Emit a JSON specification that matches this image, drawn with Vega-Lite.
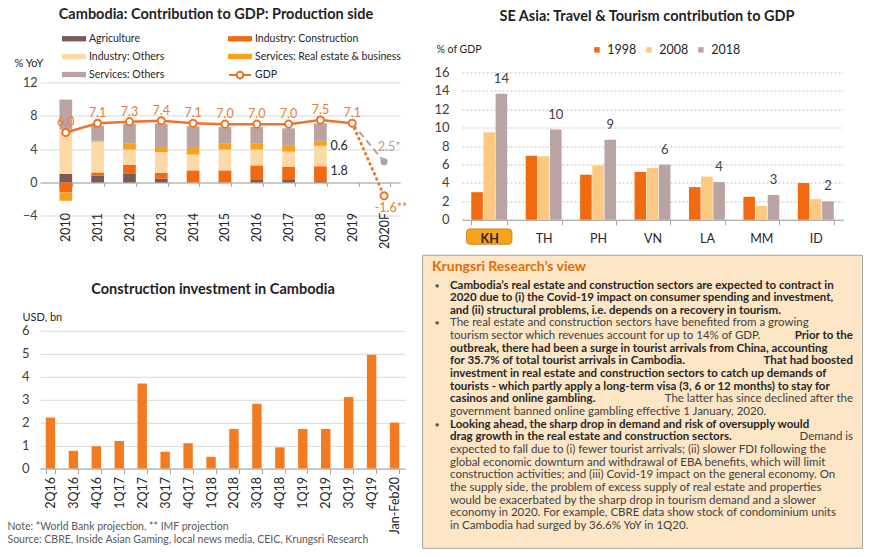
{
  "$schema": "https://vega.github.io/schema/vega-lite/v6.json",
  "background": "white",
  "padding": {"left": 7, "top": 6.5, "right": 5, "bottom": 5},
  "config": {
    "font": "Lato",
    "view": {"stroke": null}
  },
  "datasets": {
    "parts": [
      {"year": "2010", "sector": "Agriculture", "value": 1.05},
      {"year": "2010", "sector": "Industry: Construction", "value": -1.2},
      {"year": "2010", "sector": "Industry: Others", "value": 5.3},
      {"year": "2010", "sector": "Services: Real estate & business", "value": -1.0},
      {"year": "2010", "sector": "Services: Others", "value": 3.6},
      {"year": "2011", "sector": "Agriculture", "value": 0.8},
      {"year": "2011", "sector": "Industry: Construction", "value": 0.4},
      {"year": "2011", "sector": "Industry: Others", "value": 3.7},
      {"year": "2011", "sector": "Services: Real estate & business", "value": 0.1},
      {"year": "2011", "sector": "Services: Others", "value": 1.8},
      {"year": "2012", "sector": "Agriculture", "value": 1.1},
      {"year": "2012", "sector": "Industry: Construction", "value": 1.0},
      {"year": "2012", "sector": "Industry: Others", "value": 1.85},
      {"year": "2012", "sector": "Services: Real estate & business", "value": 0.7},
      {"year": "2012", "sector": "Services: Others", "value": 2.4},
      {"year": "2013", "sector": "Agriculture", "value": 0.45},
      {"year": "2013", "sector": "Industry: Construction", "value": 0.7},
      {"year": "2013", "sector": "Industry: Others", "value": 2.5},
      {"year": "2013", "sector": "Services: Real estate & business", "value": 0.5},
      {"year": "2013", "sector": "Services: Others", "value": 2.9},
      {"year": "2014", "sector": "Agriculture", "value": 0.0},
      {"year": "2014", "sector": "Industry: Construction", "value": 1.45},
      {"year": "2014", "sector": "Industry: Others", "value": 1.9},
      {"year": "2014", "sector": "Services: Real estate & business", "value": 0.8},
      {"year": "2014", "sector": "Services: Others", "value": 2.6},
      {"year": "2015", "sector": "Agriculture", "value": 0.0},
      {"year": "2015", "sector": "Industry: Construction", "value": 1.45},
      {"year": "2015", "sector": "Industry: Others", "value": 2.5},
      {"year": "2015", "sector": "Services: Real estate & business", "value": 0.7},
      {"year": "2015", "sector": "Services: Others", "value": 2.0},
      {"year": "2016", "sector": "Agriculture", "value": 0.3},
      {"year": "2016", "sector": "Industry: Construction", "value": 1.75},
      {"year": "2016", "sector": "Industry: Others", "value": 1.9},
      {"year": "2016", "sector": "Services: Real estate & business", "value": 0.7},
      {"year": "2016", "sector": "Services: Others", "value": 2.0},
      {"year": "2017", "sector": "Agriculture", "value": 0.3},
      {"year": "2017", "sector": "Industry: Construction", "value": 1.6},
      {"year": "2017", "sector": "Industry: Others", "value": 1.8},
      {"year": "2017", "sector": "Services: Real estate & business", "value": 0.7},
      {"year": "2017", "sector": "Services: Others", "value": 2.1},
      {"year": "2018", "sector": "Agriculture", "value": 0.15},
      {"year": "2018", "sector": "Industry: Construction", "value": 1.8},
      {"year": "2018", "sector": "Industry: Others", "value": 2.45},
      {"year": "2018", "sector": "Services: Real estate & business", "value": 0.6},
      {"year": "2018", "sector": "Services: Others", "value": 2.1}
    ],
    "gdp": [
      {"year": "2010", "series": "GDP", "value": 6.0},
      {"year": "2011", "series": "GDP", "value": 7.1},
      {"year": "2012", "series": "GDP", "value": 7.3},
      {"year": "2013", "series": "GDP", "value": 7.4},
      {"year": "2014", "series": "GDP", "value": 7.1},
      {"year": "2015", "series": "GDP", "value": 7.0},
      {"year": "2016", "series": "GDP", "value": 7.0},
      {"year": "2017", "series": "GDP", "value": 7.0},
      {"year": "2018", "series": "GDP", "value": 7.5},
      {"year": "2019", "series": "GDP", "value": 7.1}
    ],
    "proj": [
      {"year": "2019", "source": "World Bank", "value": 7.1, "note": ""},
      {"year": "2020F", "source": "World Bank", "value": 2.5, "note": "2.5*"},
      {"year": "2019", "source": "IMF", "value": 7.1, "note": ""},
      {"year": "2020F", "source": "IMF", "value": -1.6, "note": "-1.6**"}
    ],
    "tourism": [
      {"country": "KH", "year": "1998", "value": 3.0},
      {"country": "KH", "year": "2008", "value": 9.5},
      {"country": "KH", "year": "2018", "value": 13.7},
      {"country": "TH", "year": "1998", "value": 6.95},
      {"country": "TH", "year": "2008", "value": 6.9},
      {"country": "TH", "year": "2018", "value": 9.8},
      {"country": "PH", "year": "1998", "value": 4.9},
      {"country": "PH", "year": "2008", "value": 5.9},
      {"country": "PH", "year": "2018", "value": 8.7},
      {"country": "VN", "year": "1998", "value": 5.2},
      {"country": "VN", "year": "2008", "value": 5.65},
      {"country": "VN", "year": "2018", "value": 6.0},
      {"country": "LA", "year": "1998", "value": 3.55},
      {"country": "LA", "year": "2008", "value": 4.7},
      {"country": "LA", "year": "2018", "value": 4.1},
      {"country": "MM", "year": "1998", "value": 2.5},
      {"country": "MM", "year": "2008", "value": 1.5},
      {"country": "MM", "year": "2018", "value": 2.7},
      {"country": "ID", "year": "1998", "value": 4.0},
      {"country": "ID", "year": "2008", "value": 2.25},
      {"country": "ID", "year": "2018", "value": 2.0}
    ],
    "construction": [
      {"period": "2Q16", "usd_bn": 2.22},
      {"period": "3Q16", "usd_bn": 0.77},
      {"period": "4Q16", "usd_bn": 0.97},
      {"period": "1Q17", "usd_bn": 1.2},
      {"period": "2Q17", "usd_bn": 3.7},
      {"period": "3Q17", "usd_bn": 0.73},
      {"period": "4Q17", "usd_bn": 1.1},
      {"period": "1Q18", "usd_bn": 0.51},
      {"period": "2Q18", "usd_bn": 1.72},
      {"period": "3Q18", "usd_bn": 2.82},
      {"period": "4Q18", "usd_bn": 0.92},
      {"period": "1Q19", "usd_bn": 1.72},
      {"period": "2Q19", "usd_bn": 1.72},
      {"period": "3Q19", "usd_bn": 3.11},
      {"period": "4Q19", "usd_bn": 4.96},
      {"period": "Jan-Feb20", "usd_bn": 2.0}
    ],
    "view": [
      {"line": 1, "part": "lead", "emph": true, "first": true, "text": "Cambodia’s real estate and construction sectors are expected to contract in"},
      {"line": 2, "part": "lead", "emph": true, "first": false, "text": "2020 due to (i) the Covid-19 impact on consumer spending and investment,"},
      {"line": 3, "part": "lead", "emph": true, "first": false, "text": "and (ii) structural problems, i.e. depends on a recovery in tourism."},
      {"line": 4, "part": "lead", "emph": false, "first": true, "text": "The real estate and construction sectors have benefited from a growing"},
      {"line": 5, "part": "lead", "emph": false, "first": false, "text": "tourism sector which revenues account for up to 14% of GDP."},
      {"line": 5, "part": "tail", "emph": true, "first": false, "text": "Prior to the"},
      {"line": 6, "part": "lead", "emph": true, "first": false, "text": "outbreak, there had been a surge in tourist arrivals from China, accounting"},
      {"line": 7, "part": "lead", "emph": true, "first": false, "text": "for 35.7% of total tourist arrivals in Cambodia."},
      {"line": 7, "part": "tail", "emph": true, "first": false, "text": "That had boosted"},
      {"line": 8, "part": "lead", "emph": true, "first": false, "text": "investment in real estate and construction sectors to catch up demands of"},
      {"line": 9, "part": "lead", "emph": true, "first": false, "text": "tourists - which partly apply a long-term visa (3, 6 or 12 months) to stay for"},
      {"line": 10, "part": "lead", "emph": true, "first": false, "text": "casinos and online gambling."},
      {"line": 10, "part": "tail", "emph": false, "first": false, "text": "The latter has since declined after the"},
      {"line": 11, "part": "lead", "emph": false, "first": false, "text": "government banned online gambling effective 1 January, 2020."},
      {"line": 12, "part": "lead", "emph": true, "first": true, "text": "Looking ahead, the sharp drop in demand and risk of oversupply would"},
      {"line": 13, "part": "lead", "emph": true, "first": false, "text": "drag growth in the real estate and construction sectors."},
      {"line": 13, "part": "tail", "emph": false, "first": false, "text": "Demand is"},
      {"line": 14, "part": "lead", "emph": false, "first": false, "text": "expected to fall due to (i) fewer tourist arrivals; (ii) slower FDI following the"},
      {"line": 15, "part": "lead", "emph": false, "first": false, "text": "global economic downturn and withdrawal of EBA benefits, which will limit"},
      {"line": 16, "part": "lead", "emph": false, "first": false, "text": "construction activities; and (iii) Covid-19 impact on the general economy. On"},
      {"line": 17, "part": "lead", "emph": false, "first": false, "text": "the supply side, the problem of excess supply of real estate and properties"},
      {"line": 18, "part": "lead", "emph": false, "first": false, "text": "would be exacerbated by the sharp drop in tourism demand and a slower"},
      {"line": 19, "part": "lead", "emph": false, "first": false, "text": "economy in 2020. For example, CBRE data show stock of condominium units"},
      {"line": 20, "part": "lead", "emph": false, "first": false, "text": "in Cambodia had surged by 36.6% YoY in 1Q20."}
    ]
  },
  "spacing": 182.3,
  "bounds": "flush",
  "vconcat": [
    {
      "spacing": 62,
      "bounds": "flush",
      "hconcat": [
        {
          "width": 360,
          "height": 143.3,
          "title": {"text": "Cambodia: Contribution to GDP: Production side", "anchor": "middle", "frame": "group", "dx": -4, "offset": -7.3, "baseline": "alphabetic", "fontSize": 14.5, "fontWeight": "bold", "color": "#1f1f1f"},
          "resolve": {"scale": {"color": "independent"}},
          "encoding": {
            "x": {
              "field": "year", "type": "nominal", "title": null,
              "scale": {"domain": ["2010", "2011", "2012", "2013", "2014", "2015", "2016", "2017", "2018", "2019", "2020F"], "paddingInner": 0.6, "paddingOuter": 0.456, "align": 0.67},
              "axis": {"orient": "bottom", "offset": -33.3, "domainColor": "#a6a6a6", "tickColor": "#a6a6a6", "tickBand": "extent", "tickSize": 4, "labelAngle": -90, "labelPadding": 26, "labelFontSize": 12.5, "labelColor": "#262626", "grid": false}
            },
            "y": {
              "field": "value", "type": "quantitative", "title": "% YoY",
              "scale": {"domain": [-4, 13.2], "nice": false, "zero": false},
              "axis": {"values": [-4, 0, 4, 8, 12], "domain": false, "ticks": false, "grid": true, "gridColor": "#d9d9d9", "labelPadding": 3, "labelFontSize": 12.5, "labelColor": "#404040", "titleAngle": 0, "titleX": -26, "titleY": -8.7, "titleAlign": "left", "titleBaseline": "middle", "titleFontWeight": "normal", "titleFontSize": 11, "titleColor": "#262626"}
            }
          },
          "layer": [
            {
              "data": {"name": "parts"},
              "mark": {"type": "bar"},
              "encoding": {
                "color": {
                  "field": "sector", "type": "nominal",
                  "sort": ["Agriculture", "Industry: Construction", "Industry: Others", "Services: Real estate & business", "Services: Others"],
                  "scale": {"domain": ["Agriculture", "Industry: Construction", "Industry: Others", "Services: Real estate & business", "Services: Others"], "range": ["#7a5a57", "#f26a10", "#fcd9a6", "#f7a21b", "#b9a3a3"]},
                  "legend": {"orient": "none", "legendX": 22, "legendY": -46, "direction": "horizontal", "columns": 2, "columnPadding": 63, "rowPadding": -6, "title": null, "symbolType": "M-1,-0.22H1V0.22H-1Z", "symbolSize": 576, "symbolStrokeWidth": 0, "labelFontSize": 10.5, "labelColor": "#262626", "labelOffset": 3, "labelLimit": 300}
                },
                "order": {"field": "color_sector_sort_index", "type": "quantitative"}
              }
            },
            {
              "data": {"name": "parts"},
              "mark": {"type": "text", "align": "left", "dx": 10, "dy": 5, "baseline": "middle", "fontSize": 12.5},
              "encoding": {
                "y": {"field": "value", "type": "quantitative", "stack": "zero", "scale": {"domain": [-4, 13.2], "nice": false, "zero": false}},
                "color": {
                  "field": "sector", "type": "nominal",
                  "sort": ["Agriculture", "Industry: Construction", "Industry: Others", "Services: Real estate & business", "Services: Others"],
                  "scale": {"domain": ["Agriculture", "Industry: Construction", "Industry: Others", "Services: Real estate & business", "Services: Others"], "range": ["#262626"]},
                  "legend": null
                },
                "order": {"field": "color_sector_sort_index", "type": "quantitative"},
                "text": {
                  "condition": {"test": "datum.year === '2018' && (datum.sector === 'Industry: Construction' || datum.sector === 'Services: Real estate & business')", "field": "value", "type": "quantitative", "format": ".1f"},
                  "value": ""
                }
              }
            },
            {
              "data": {"name": "gdp"},
              "mark": {"type": "line", "strokeWidth": 2.5},
              "encoding": {
                "color": {
                  "field": "series", "type": "nominal",
                  "scale": {"range": ["#ee7428"]},
                  "legend": {"orient": "none", "legendX": 188, "legendY": -9.4, "title": null, "symbolType": "M-1,0H-0.3M0.3,0H1M0.3,0A0.3,0.3,0,1,1,-0.3,0A0.3,0.3,0,1,1,0.3,0", "symbolSize": 484, "symbolStrokeWidth": 2, "symbolStrokeColor": "#ee7428", "symbolFillColor": "white", "labelFontSize": 10.5, "labelColor": "#262626", "labelOffset": 3}
                }
              }
            },
            {
              "data": {"name": "proj"},
              "transform": [{"filter": "datum.source === 'World Bank'"}],
              "mark": {"type": "line", "color": "#a6a6a6", "strokeWidth": 2, "strokeDash": [7, 4]},
              "encoding": {}
            },
            {
              "data": {"name": "proj"},
              "transform": [{"filter": "datum.source === 'IMF'"}],
              "mark": {"type": "line", "color": "#ee7428", "strokeWidth": 3, "strokeDash": [0.5, 5], "strokeCap": "round"},
              "encoding": {}
            },
            {
              "data": {"name": "gdp"},
              "mark": {"type": "point", "filled": true, "fill": "white", "stroke": "#ee7428", "strokeWidth": 2, "size": 50, "opacity": 1}
            },
            {
              "data": {"name": "proj"},
              "transform": [{"filter": "datum.source === 'IMF' && datum.year === '2020F'"}],
              "mark": {"type": "point", "filled": true, "fill": "white", "stroke": "#ee7428", "strokeWidth": 2, "size": 50, "opacity": 1}
            },
            {
              "data": {"name": "proj"},
              "transform": [{"filter": "datum.source === 'World Bank' && datum.year === '2020F'"}],
              "mark": {"type": "point", "filled": true, "color": "#a6a6a6", "size": 50, "opacity": 1}
            },
            {
              "data": {"name": "gdp"},
              "mark": {"type": "text", "dy": -10, "baseline": "middle", "fontSize": 12.5, "color": "#e27d3b"},
              "encoding": {"text": {"field": "value", "type": "quantitative", "format": ".1f"}}
            },
            {
              "data": {"name": "proj"},
              "transform": [{"filter": "datum.source === 'World Bank' && datum.year === '2020F'"}],
              "mark": {"type": "text", "dy": -15, "dx": 5, "baseline": "middle", "fontSize": 12.5, "color": "#a6a6a6"},
              "encoding": {"text": {"field": "note"}}
            },
            {
              "data": {"name": "proj"},
              "transform": [{"filter": "datum.source === 'IMF' && datum.year === '2020F'"}],
              "mark": {"type": "text", "dy": 12, "dx": 7, "baseline": "middle", "fontSize": 12.5, "color": "#e27d3b"},
              "encoding": {"text": {"field": "note"}}
            }
          ]
        },
        {
          "width": 381,
          "height": 147.3,
          "title": {"text": "SE Asia: Travel & Tourism contribution to GDP", "anchor": "middle", "frame": "group", "dx": -5.5, "offset": 9.7, "baseline": "alphabetic", "fontSize": 14.5, "fontWeight": "bold", "color": "#1f1f1f"},
          "resolve": {"scale": {"y": "independent"}, "axis": {"y": "independent"}},
          "encoding": {
            "x": {
              "field": "country", "type": "nominal", "sort": null, "title": null,
              "scale": {"domain": ["KH", "TH", "PH", "VN", "LA", "MM", "ID"], "paddingInner": 0.34, "paddingOuter": 0.17},
              "axis": {"domainColor": "#a6a6a6", "tickColor": "#a6a6a6", "tickBand": "extent", "tickSize": 5, "labelPadding": 8, "labelFontSize": 12.5, "labelColor": "#262626", "labelAngle": 0, "labelFontWeight": {"condition": {"test": "datum.value === 'KH'", "value": "bold"}, "value": "normal"}, "zindex": 1}
            }
          },
          "layer": [
            {
              "data": {"name": "tourism"},
              "encoding": {
                "xOffset": {"field": "year", "type": "nominal", "scale": {"domain": ["1998", "2008", "2018"], "paddingInner": 0.05}},
                "y": {
                  "field": "value", "type": "quantitative", "title": "% of GDP",
                  "scale": {"domain": [0, 16], "nice": false},
                  "axis": {"values": [0, 2, 4, 6, 8, 10, 12, 14, 16], "labelOverlap": false, "domain": false, "ticks": false, "grid": true, "gridColor": "#bfbfbf", "gridDash": [2, 2], "gridWidth": 1, "gridOpacity": 1, "labelPadding": 13, "labelFontSize": 13, "labelColor": "#404040", "titleAngle": 0, "titleX": -26, "titleY": -22.7, "titleAlign": "left", "titleBaseline": "middle", "titleFontWeight": "normal", "titleFontSize": 10.5, "titleColor": "#262626"}
                }
              },
              "layer": [
                {
                  "mark": {"type": "bar"},
                  "encoding": {
                    "color": {
                      "field": "year", "type": "nominal",
                      "scale": {"domain": ["1998", "2008", "2018"], "range": ["#f26a10", "#fcc983", "#b9a3a3"]},
                      "legend": {"orient": "none", "legendX": 550.7, "legendY": -29, "direction": "horizontal", "title": null, "symbolType": "square", "symbolSize": 30, "symbolStrokeWidth": 0, "labelFontSize": 12.5, "labelColor": "#262626", "columnPadding": 6, "labelOffset": 4}
                    }
                  }
                },
                {
                  "transform": [{"filter": "datum.year === '2018'"}],
                  "mark": {"type": "text", "dy": -8, "baseline": "bottom", "fontSize": 13, "color": "#404040"},
                  "encoding": {
                    "text": {"field": "value", "type": "quantitative", "format": ".0f"}
                  }
                }
              ]
            },
            {
              "data": {"values": [{"country": "KH"}]},
              "mark": {"type": "bar", "width": {"band": 1.26}, "cornerRadius": 3, "fill": "#f7a31c", "stroke": "#d0841a", "strokeWidth": 1},
              "encoding": {
                "y": {"datum": -1.0, "type": "quantitative", "scale": {"domain": [0, 16], "nice": false}, "axis": null},
                "y2": {"datum": -2.65}
              }
            }
          ]
        }
      ]
    },
    {
      "spacing": 17,
      "bounds": "flush",
      "hconcat": [
        {
          "width": 365,
          "height": 213.7,
          "title": {"text": "Construction investment in Cambodia", "anchor": "middle", "frame": "group", "dx": -9.5, "offset": -53.5, "baseline": "alphabetic", "fontSize": 14.5, "fontWeight": "bold", "color": "#1f1f1f"},
          "data": {"name": "construction"},
          "mark": {"type": "bar", "color": "#f37a1f"},
          "encoding": {
            "x": {
              "field": "period", "type": "nominal", "sort": null,
              "title": ["Note: *World Bank projection, ** IMF projection", "Source: CBRE, Inside Asian Gaming, local news media, CEIC, Krungsri Research"],
              "scale": {"paddingInner": 0.59, "paddingOuter": 0.25},
              "axis": {"domainColor": "#a6a6a6", "tickColor": "#a6a6a6", "tickBand": "extent", "tickSize": 5, "labelAngle": -90, "labelPadding": 3, "labelFontSize": 12.5, "labelColor": "#262626", "titleX": -33, "titleY": 52.6, "titleAlign": "left", "titleAnchor": "start", "titleBaseline": "top", "titleAngle": 0, "titleFontWeight": "normal", "titleFontSize": 10.5, "titleColor": "#595959", "titleLineHeight": 13.4}
            },
            "y": {
              "field": "usd_bn", "type": "quantitative", "title": "USD, bn",
              "scale": {"domain": [0, 9.31], "nice": false},
              "axis": {"values": [0, 1, 2, 3, 4, 5, 6], "domain": false, "ticks": false, "grid": true, "gridColor": "#d9d9d9", "labelPadding": 11, "labelFontSize": 13, "labelColor": "#404040", "titleAngle": 0, "titleX": -18, "titleY": 63, "titleAlign": "left", "titleBaseline": "middle", "titleFontWeight": "normal", "titleFontSize": 11, "titleColor": "#262626"}
            }
          }
        },
        {
          "width": 440,
          "height": 293,
          "view": {"fill": "#fde6c6", "stroke": "#a6a6a6", "strokeWidth": 1},
          "title": {"text": "Krungsri Research’s view", "anchor": "start", "frame": "group", "dx": 10, "offset": -30.5, "baseline": "alphabetic", "fontSize": 14, "fontWeight": "bold", "color": "#e36c0a"},
          "data": {"name": "view"},
          "encoding": {
            "x": {"field": "part", "type": "nominal", "scale": {"type": "point", "domain": ["lead", "tail"], "padding": 0}, "axis": null},
            "y": {"field": "line", "type": "quantitative", "scale": {"domain": [-1.43, 21.74], "nice": false, "zero": false, "reverse": true}, "axis": null}
          },
          "layer": [
            {
              "transform": [{"filter": "datum.first"}],
              "mark": {"type": "text", "align": "center", "dx": 15, "baseline": "middle", "fontSize": 7, "color": "#595959"},
              "encoding": {"text": {"value": "●"}}
            },
            {
              "transform": [{"filter": "datum.part === 'lead' && datum.emph"}],
              "mark": {"type": "text", "align": "left", "dx": 28, "baseline": "middle", "fontSize": 11.5, "fontWeight": "bold", "color": "#262626"},
              "encoding": {"text": {"field": "text"}}
            },
            {
              "transform": [{"filter": "datum.part === 'lead' && !datum.emph"}],
              "mark": {"type": "text", "align": "left", "dx": 28, "baseline": "middle", "fontSize": 11.5, "color": "#404040"},
              "encoding": {"text": {"field": "text"}}
            },
            {
              "transform": [{"filter": "datum.part === 'tail' && datum.emph"}],
              "mark": {"type": "text", "align": "right", "dx": -9, "baseline": "middle", "fontSize": 11.5, "fontWeight": "bold", "color": "#262626"},
              "encoding": {"text": {"field": "text"}}
            },
            {
              "transform": [{"filter": "datum.part === 'tail' && !datum.emph"}],
              "mark": {"type": "text", "align": "right", "dx": -9, "baseline": "middle", "fontSize": 11.5, "color": "#404040"},
              "encoding": {"text": {"field": "text"}}
            }
          ]
        }
      ]
    }
  ]
}
